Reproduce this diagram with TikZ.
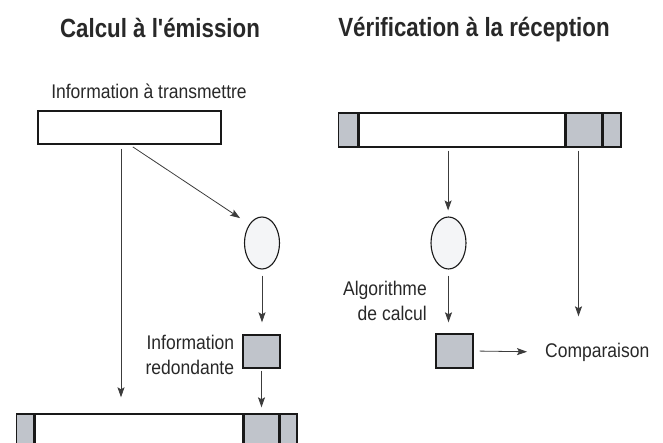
\documentclass[tikz,border=0pt]{standalone}
\usepackage{fontspec}
\setmainfont{Liberation Sans}
\usepackage{tikz}
\usetikzlibrary{arrows.meta, shapes.geometric, positioning}
\definecolor{bloc}{RGB}{192,196,203}
\definecolor{rond}{RGB}{244,245,247}
\definecolor{trait}{RGB}{25,25,25}
\definecolor{texte}{RGB}{40,40,40}
\newcommand\haut[1]{\scalebox{1}[1.13]{#1}}
\newcommand\hautT[1]{\scalebox{1}[1.18]{#1}}

\begin{document}
\begin{tikzpicture}[x=1pt,y=-1pt,
  champ/.style={draw=trait,line width=1.4pt,fill=white,inner sep=0pt,minimum height=34pt},
  bloc/.style={champ,fill=bloc},
  rond/.style={draw=trait,line width=1.1pt,fill=rond,ellipse,inner sep=0pt,minimum width=35pt,minimum height=52pt},
  fl/.style={draw=trait!85,line width=0.8pt,-{Stealth[length=10pt,width=7pt,inset=2pt]}},
  lbl/.style={text=texte,inner sep=0pt,font=\fontsize{17.5}{25}\selectfont},
  titre/.style={text=texte,inner sep=0pt,font=\fontsize{22.3}{26}\selectfont\bfseries}]
\clip (0,0) rectangle (663,443);
\node[titre,anchor=base] (tA) at (160,38) {\hautT{Calcul à l\textquotesingle émission}};
\node[titre,anchor=base] (tB) at (474,37) {\hautT{Vérification à la réception}};
\node[lbl,anchor=base] (lInfo) at (149,99) {\haut{Information à transmettre}};
\node[champ,minimum width=183pt,minimum height=33pt] (info) at (129.5,127.5) {};
\node[rond] (crcA) at (262,243) {};
\node[bloc,minimum width=37pt,minimum height=33pt] (redA) at (261.5,351.5) {};
\node[lbl,align=right,left=8pt of redA,yshift=-3pt] (lRed) {\haut{Information}\\\haut{redondante}};
\node[bloc,minimum width=17pt,anchor=west] (a1) at (16,431) {};
\node[champ,minimum width=208pt,right=0pt of a1] (a2) {};
\node[bloc,minimum width=34pt,right=0pt of a2] (a3) {};
\node[bloc,minimum width=17pt,right=0pt of a3] (a4) {};
\draw[fl,shorten <=4pt,shorten >=16pt] ([xshift=-8.5pt]info.south) -- ([xshift=-8.5pt]info.south |- a2.north);
\draw[fl,shorten <=4pt,shorten >=11pt] (info.south) -- (crcA.north west);
\draw[fl,shorten <=6pt,shorten >=12pt] (crcA.south) -- (crcA.south |- redA.north);
\draw[fl,shorten <=2pt,shorten >=6pt] (redA.south) -- (redA.south |- a3.north);
\node[bloc,minimum width=19pt,anchor=west] (b1) at (338,130) {};
\node[champ,minimum width=206pt,right=0pt of b1] (b2) {};
\node[bloc,minimum width=35pt,right=0pt of b2] (b3) {};
\node[bloc,minimum width=18pt,right=0pt of b3] (b4) {};
\node[rond] (crcB) at (448.5,243) {};
\node[bloc,minimum width=37pt,minimum height=34pt] (redB) at (454.5,351) {};
\node[lbl,align=right,anchor=east] (lAlgo) at (427,301) {\haut{Algorithme}\\\haut{de calcul}};
\node[lbl,anchor=west] (cmp) at (545,352) {\haut{Comparaison}};
\draw[fl,shorten <=3pt,shorten >=6pt] ([xshift=-14pt]b2.south) -- ([xshift=-14pt]b2.south |- crcB.north);
\draw[fl,shorten <=6pt,shorten >=11pt] (crcB.south) -- (crcB.south |- redB.north);
\draw[fl,shorten <=6pt,shorten >=18pt] (redB.east) -- (cmp.west);
\draw[fl,shorten <=3pt,shorten >=17pt] ([xshift=-5.5pt]b3.south) -- ([xshift=-5.5pt]b3.south |- redB.north);
\end{tikzpicture}
\end{document}
